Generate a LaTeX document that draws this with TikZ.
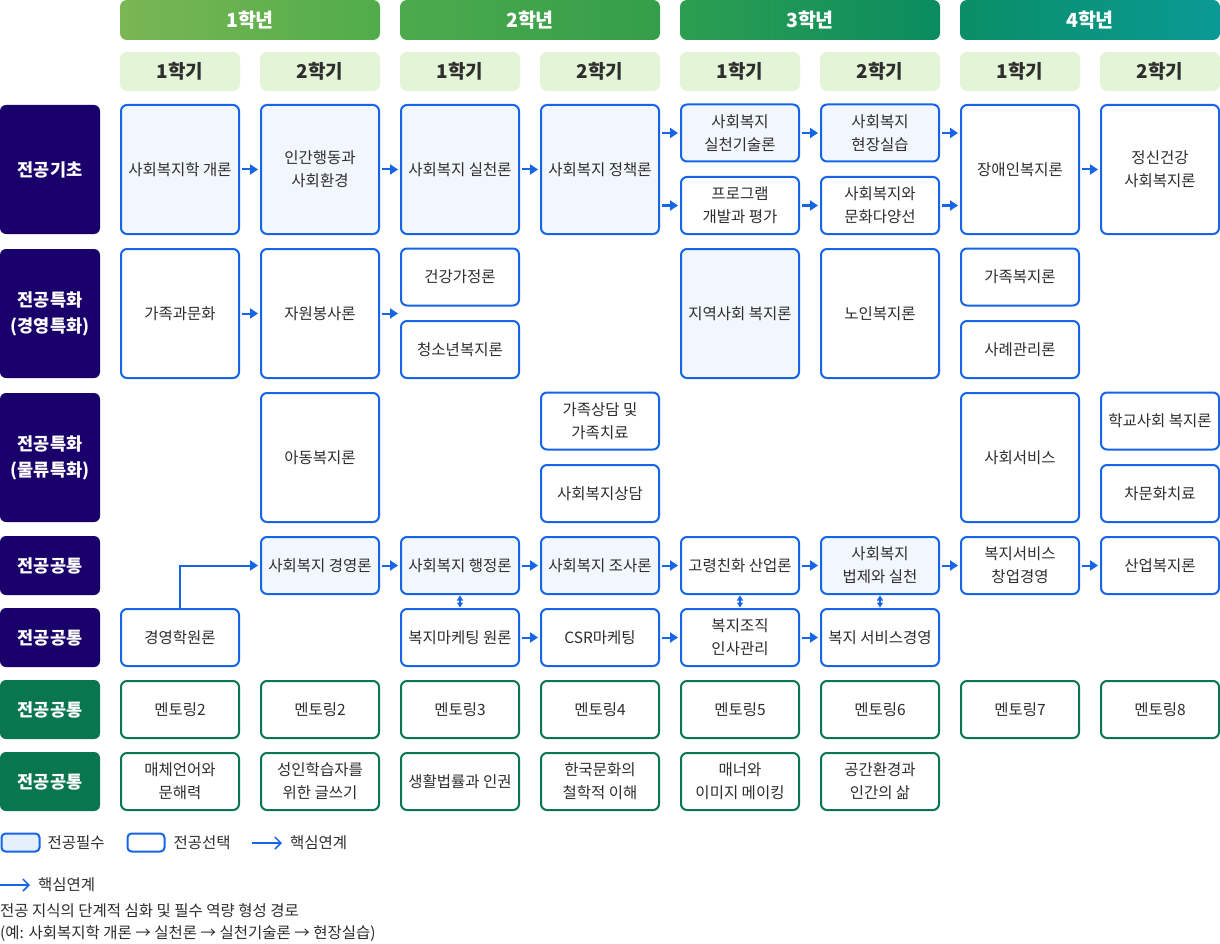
\documentclass[tikz,border=0pt]{standalone}
\usepackage{fontspec}
\setmainfont{Noto Sans CJK KR}
\usetikzlibrary{arrows.meta,positioning}

\definecolor{navy}{HTML}{1A006B}
\definecolor{dkgreen}{HTML}{08764E}
\definecolor{linkblue}{HTML}{1565E6}
\definecolor{reqfill}{HTML}{F2F7FE}
\definecolor{keyfill}{HTML}{E6EFFC}
\definecolor{semfill}{HTML}{E3F5D6}
\definecolor{txt}{HTML}{2E2E2E}
\definecolor{yl1}{RGB}{122,182,84}
\definecolor{yr1}{RGB}{80,172,74}
\definecolor{yl2}{RGB}{76,170,76}
\definecolor{yr2}{RGB}{52,158,74}
\definecolor{yl3}{RGB}{44,158,80}
\definecolor{yr3}{RGB}{10,140,96}
\definecolor{yl4}{RGB}{10,142,102}
\definecolor{yr4}{RGB}{10,154,150}

\begin{document}
\begin{tikzpicture}[x=1pt, y=-1pt,
  yearhead/.style={rounded corners=7pt, minimum width=260pt, minimum height=40pt, text=white, font=\fontsize{19.5}{22}\selectfont\bfseries},
  semhead/.style={fill=semfill, rounded corners=7pt, minimum width=120pt, minimum height=39pt, text=txt, font=\fontsize{19}{22}\selectfont\bfseries},
  rowlab/.style={fill=navy, rounded corners=6pt, minimum width=100pt, minimum height=59pt, align=center, text=white, font=\fontsize{17.5}{26}\selectfont\bfseries},
  selbox/.style={draw=linkblue, line width=2pt, fill=white, rounded corners=6pt, minimum width=118pt, minimum height=57pt, inner sep=1pt, align=center, text=txt, font=\fontsize{15.5}{23}\selectfont},
  reqbox/.style={selbox, fill=reqfill},
  greenbox/.style={selbox, draw=dkgreen},
  tall/.style={minimum height=129pt},
  linkarr/.style={draw=linkblue, line width=2pt, -{Triangle[length=8pt,width=10pt]}, shorten <=2pt, shorten >=2pt},
  pairarr/.style={draw=linkblue, line width=1.5pt, {Triangle[length=5pt,width=6pt]}-{Triangle[length=5pt,width=6pt]}, shorten <=0.5pt, shorten >=0.5pt},
  keylink/.style={draw=linkblue, line width=1.5pt, -{Straight Barb[length=6pt,width=12pt]}},
  legtext/.style={inner sep=0pt, text=txt, font=\fontsize{15.5}{20}\selectfont}]
  \fill[white] (0,0) rectangle (1220,944);
  \useasboundingbox (0,0) rectangle (1220,944);

  \foreach \n in {1,...,4}
    \node[yearhead, left color=yl\n, right color=yr\n] (year\n) at ({-30+280*\n},20) {\n{}학년};
  \foreach \i/\s in {1/1,2/2,3/1,4/2,5/1,6/2,7/1,8/2}
    \node[semhead] (sem\i) at ({40+140*\i},71.5) {\s{}학기};

  \node[rowlab, tall] (lab1) at (50,169.5) {전공기초};
  \node[rowlab, tall] (lab2) at (50,313.5) {전공특화\\(경영특화)};
  \node[rowlab, tall] (lab3) at (50,457.5) {전공특화\\(물류특화)};
  \node[rowlab] (lab4) at (50,565.5) {전공공통};
  \node[rowlab] (lab5) at (50,637.5) {전공공통};
  \node[rowlab, fill=dkgreen] (lab6) at (50,709.5) {전공공통};
  \node[rowlab, fill=dkgreen] (lab7) at (50,781.5) {전공공통};

  \node[reqbox, tall] (intro) at (180,169.5) {사회복지학 개론};
  \node[reqbox, tall] (hbse) at (320,169.5) {인간행동과\\사회환경};
  \node[reqbox, tall] (practice) at (460,169.5) {사회복지 실천론};
  \node[reqbox, tall] (policy) at (600,169.5) {사회복지 정책론};
  \node[reqbox] (skills) at (740,133) {사회복지\\실천기술론};
  \node[selbox] (program) at (740,205.5) {프로그램\\개발과 평가};
  \node[reqbox] (field) at (880,133) {사회복지\\현장실습};
  \node[selbox] (diversity) at (880,205.5) {사회복지와\\문화다양선};
  \node[selbox, tall] (disab) at (1020,169.5) {장애인복지론};
  \node[selbox, tall] (mental) at (1160,169.5) {정신건강\\사회복지론};

  \node[selbox, tall] (famcult) at (180,313.5) {가족과문화};
  \node[selbox, tall] (volunteer) at (320,313.5) {자원봉사론};
  \node[selbox] (healthfam) at (460,277) {건강가정론};
  \node[selbox] (youth) at (460,349.5) {청소년복지론};
  \node[reqbox, tall] (community) at (740,313.5) {지역사회 복지론};
  \node[selbox, tall] (elderly) at (880,313.5) {노인복지론};
  \node[selbox] (famwel) at (1020,277) {가족복지론};
  \node[selbox] (casemgmt) at (1020,349.5) {사례관리론};

  \node[selbox, tall] (child) at (320,457.5) {아동복지론};
  \node[selbox] (famcoun) at (600,421) {가족상담 및\\가족치료};
  \node[selbox] (counsel) at (600,493.5) {사회복지상담};
  \node[selbox, tall] (socserv) at (1020,457.5) {사회서비스};
  \node[selbox] (school) at (1160,421) {학교사회 복지론};
  \node[selbox] (culture) at (1160,493.5) {차문화치료};

  \node[reqbox] (mgmt) at (320,565.5) {사회복지 경영론};
  \node[reqbox] (admin) at (460,565.5) {사회복지 행정론};
  \node[reqbox] (research) at (600,565.5) {사회복지 조사론};
  \node[selbox] (aging) at (740,565.5) {고령친화 산업론};
  \node[reqbox] (law) at (880,565.5) {사회복지\\법제와 실천};
  \node[selbox] (startup) at (1020,565.5) {복지서비스\\창업경영};
  \node[selbox] (industrial) at (1160,565.5) {산업복지론};

  \node[selbox] (bizintro) at (180,637.5) {경영학원론};
  \node[selbox] (marketing) at (460,637.5) {복지마케팅 원론};
  \node[selbox] (csr) at (600,637.5) {CSR마케팅};
  \node[selbox] (hrm) at (740,637.5) {복지조직\\인사관리};
  \node[selbox] (servmgmt) at (880,637.5) {복지 서비스경영};

  \foreach \i/\n in {1/2,2/2,3/3,4/4,5/5,6/6,7/7,8/8}
    \node[greenbox] (mentor\i) at ({40+140*\i},709.5) {멘토링\n};

  \node[greenbox] (media) at (180,781.5) {매체언어와\\문해력};
  \node[greenbox] (writing) at (320,781.5) {성인학습자를\\위한 글쓰기};
  \node[greenbox] (lawlife) at (460,781.5) {생활법률과 인권};
  \node[greenbox] (korphil) at (600,781.5) {한국문화의\\철학적 이해};
  \node[greenbox] (manner) at (740,781.5) {매너와\\이미지 메이킹};
  \node[greenbox] (space) at (880,781.5) {공간환경과\\인간의 삶};

  \draw[linkarr] (intro) -- (hbse);
  \draw[linkarr] (hbse) -- (practice);
  \draw[linkarr] (practice) -- (policy);
  \draw[linkarr] (policy.east |- skills) -- (skills);
  \draw[linkarr] (policy.east |- program) -- (program);
  \draw[linkarr] (skills) -- (field);
  \draw[linkarr] (program) -- (diversity);
  \draw[linkarr] (field) -- (field -| disab.west);
  \draw[linkarr] (diversity) -- (diversity -| disab.west);
  \draw[linkarr] (disab) -- (mental);

  \draw[linkarr] (famcult) -- (volunteer);
  \draw[linkarr] (volunteer) -- (volunteer -| healthfam.west);

  \draw[linkarr, shorten <=0pt] (bizintro.north) |- (mgmt);
  \draw[linkarr] (mgmt) -- (admin);
  \draw[linkarr] (admin) -- (research);
  \draw[linkarr] (research) -- (aging);
  \draw[linkarr] (aging) -- (law);
  \draw[linkarr] (law) -- (startup);
  \draw[linkarr] (startup) -- (industrial);

  \draw[linkarr] (marketing) -- (csr);
  \draw[linkarr] (csr) -- (hrm);
  \draw[linkarr] (hrm) -- (servmgmt);

  \draw[pairarr] (admin) -- (marketing);
  \draw[pairarr] (aging) -- (hrm);
  \draw[pairarr] (law) -- (servmgmt);

  \node[reqbox, fill=keyfill, minimum width=38pt, minimum height=18pt, rounded corners=4pt] (keyreq) at (20.5,842.5) {};
  \node[legtext, right=7pt of keyreq] (keyreqtxt) {전공필수};
  \node[selbox, minimum width=37pt, minimum height=18pt, rounded corners=4pt] (keysel) at (146,842.5) {};
  \node[legtext, right=8pt of keysel] (keyseltxt) {전공선택};
  \coordinate (keya) at (252,843);
  \coordinate (keyb) at (282,843);
  \draw[keylink] (keya) -- (keyb);
  \node[legtext, anchor=west] (keylinktxt) at (290,843) {핵심연계};

  \coordinate (keyc) at (0,885);
  \coordinate (keyd) at (30,885);
  \draw[keylink] (keyc) -- (keyd);
  \node[legtext, anchor=west] (keylinktxt2) at (38,885) {핵심연계};
  \node[legtext, anchor=west] (note1) at (0,911) {전공 지식의 단계적 심화 및 필수 역량 형성 경로};
  \node[legtext, anchor=west] (note2) at (0,934) {(예: 사회복지학 개론 → 실천론 → 실천기술론 → 현장실습)};
\end{tikzpicture}
\end{document}
